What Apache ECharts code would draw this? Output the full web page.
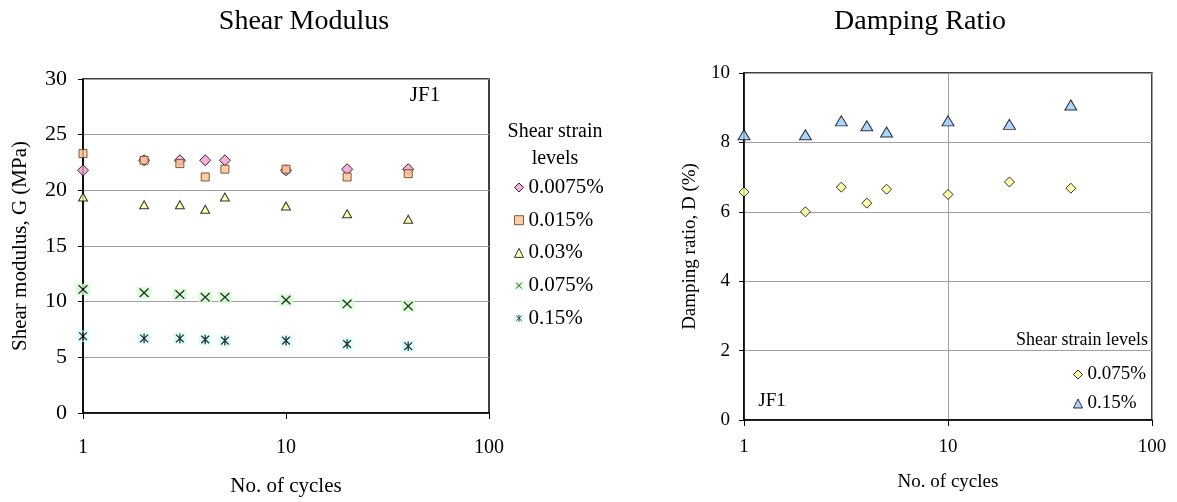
<!DOCTYPE html>
<html>
<head>
<meta charset="utf-8">
<title>Shear Modulus / Damping Ratio</title>
<script src="https://cdn.jsdelivr.net/npm/echarts@6/dist/echarts.min.js"></script>
<style>
  html, body { margin: 0; padding: 0; background: #fff; }
  #chart { width: 1177px; height: 502px; }
</style>
</head>
<body>
<div id="chart"></div>
<script>
// number of cycles (log axis)
const cycles = [1, 2, 3, 4, 5, 10, 20, 40]

// shear modulus G (MPa) per shear strain level
const g0075 = [21.8, 22.7, 22.7, 22.7, 22.7, 21.8, 21.9, 21.9]
const g015 = [23.3, 22.7, 22.4, 21.2, 21.9, 21.9, 21.2, 21.5]
const g03 = [19.4, 18.7, 18.7, 18.3, 19.4, 18.6, 17.9, 17.4]
const g075 = [11.1, 10.8, 10.65, 10.4, 10.4, 10.15, 9.8, 9.6]
const g15 = [6.9, 6.7, 6.7, 6.6, 6.5, 6.5, 6.2, 6.0]

// damping ratio D (%)
const d075 = [6.57, 6.0, 6.71, 6.25, 6.65, 6.5, 6.86, 6.68]
const d15 = [8.22, 8.22, 8.62, 8.48, 8.3, 8.62, 8.52, 9.08]

const leftNames = ['0.0075%', '0.015%', '0.03%', '0.075%', '0.15%']
const rightNames = ['0.075%', '0.15%']

const serif = '"Liberation Serif", "Times New Roman", serif'
const pairs = vals => cycles.map((c, i) => [c, vals[i]])

// excel-like marker with a coloured box behind black strokes
const boxMark = (bg, d) => 'image://data:image/svg+xml;charset=utf-8,' + encodeURIComponent(
  '<svg xmlns="http://www.w3.org/2000/svg" width="13" height="12" viewBox="0 0 13 12">' +
  '<rect width="13" height="12" fill="' + bg + '"/>' +
  '<path d="' + d + '" stroke="#000" stroke-width="1.3" fill="none"/></svg>')
const xMark = boxMark('#CCFFCC', 'M2.4 1.8L10.6 10.2M10.6 1.8L2.4 10.2')
const starMark = boxMark('#CCFFFF', 'M2.6 2.2L10.4 9.8M10.4 2.2L2.6 9.8M6.5 1.2V10.8')

const border = { borderColor: '#000', borderWidth: 1 }

const chart = echarts.init(document.getElementById('chart'))

const axisText = size => ({ color: '#000', fontFamily: serif, fontSize: size })
const gridLine = { lineStyle: { color: '#A0A0A0', width: 1 } }

const option = {
  animation: false,
  backgroundColor: '#fff',
  grid: [
    { left: 83, top: 79, width: 406, height: 335, show: true, borderColor: '#000', borderWidth: 1.5 },
    { left: 744, top: 73, width: 408, height: 347, show: true, borderColor: '#000', borderWidth: 1.5 }
  ],
  xAxis: [
    {
      gridIndex: 0, type: 'log', logBase: 10, min: 1, max: 100,
      axisLine: { lineStyle: { color: '#000', width: 1.5 } },
      axisTick: { length: 6, lineStyle: { color: '#000' } },
      minorTick: { show: false },
      splitLine: { show: false },
      axisLabel: Object.assign({ margin: 25 }, axisText(20)),
      name: 'No. of cycles', nameLocation: 'middle', nameGap: 63,
      nameTextStyle: axisText(21)
    },
    {
      gridIndex: 1, type: 'log', logBase: 10, min: 1, max: 100,
      axisLine: { lineStyle: { color: '#000', width: 1.5 } },
      axisTick: { length: 6, lineStyle: { color: '#000' } },
      minorTick: { show: false },
      splitLine: gridLine,
      axisLabel: Object.assign({ margin: 18 }, axisText(19)),
      name: 'No. of cycles', nameLocation: 'middle', nameGap: 53,
      nameTextStyle: axisText(19)
    }
  ],
  yAxis: [
    {
      gridIndex: 0, type: 'value', min: 0, max: 30, interval: 5,
      axisLine: { show: true, lineStyle: { color: '#000', width: 1.5 } },
      axisTick: { show: true, length: 5, lineStyle: { color: '#000' } },
      splitLine: gridLine,
      axisLabel: Object.assign({ margin: 16 }, axisText(22)),
      name: 'Shear modulus, G (MPa)', nameLocation: 'middle', nameGap: 52,
      nameTextStyle: axisText(21)
    },
    {
      gridIndex: 1, type: 'value', min: 0, max: 10, interval: 2,
      axisLine: { show: true, lineStyle: { color: '#000', width: 1.5 } },
      axisTick: { show: true, length: 5, lineStyle: { color: '#000' } },
      splitLine: gridLine,
      axisLabel: Object.assign({ margin: 14 }, axisText(19)),
      name: 'Damping ratio, D (%)', nameLocation: 'middle', nameGap: 44,
      nameTextStyle: axisText(19)
    }
  ],
  legend: [
    {
      orient: 'vertical', left: 509, top: 172, itemGap: 11.7,
      itemWidth: 9, itemHeight: 9,
      itemStyle: { borderWidth: 1 },
      textStyle: axisText(21),
      data: [
        { name: leftNames[0], icon: 'diamond' },
        { name: leftNames[1], icon: 'rect' },
        { name: leftNames[2], icon: 'triangle' },
        { name: leftNames[3], icon: xMark },
        { name: leftNames[4], icon: starMark }
      ]
    },
    {
      orient: 'vertical', left: 1068, top: 360, itemGap: 10,
      itemWidth: 9, itemHeight: 9,
      itemStyle: { borderWidth: 1 },
      textStyle: axisText(19),
      data: [
        { name: 'D ' + rightNames[0], icon: 'diamond' },
        { name: 'D ' + rightNames[1], icon: 'triangle' }
      ],
      formatter: n => n.slice(2)
    }
  ],
  graphic: [
    { type: 'text', x: 304, y: 22, style: { text: 'Shear Modulus', font: '28px ' + serif, fill: '#000', align: 'center', verticalAlign: 'middle' } },
    { type: 'text', x: 920, y: 22, style: { text: 'Damping Ratio', font: '28px ' + serif, fill: '#000', align: 'center', verticalAlign: 'middle' } },
    { type: 'text', x: 555, y: 132, style: { text: 'Shear strain', font: '20px ' + serif, fill: '#000', align: 'center', verticalAlign: 'middle' } },
    { type: 'text', x: 555, y: 159, style: { text: 'levels', font: '20px ' + serif, fill: '#000', align: 'center', verticalAlign: 'middle' } },
    { type: 'text', x: 1148, y: 340, style: { text: 'Shear strain levels', font: '18px ' + serif, fill: '#000', align: 'right', verticalAlign: 'middle' } },
    { type: 'text', x: 425, y: 95, style: { text: 'JF1', font: '21px ' + serif, fill: '#000', align: 'center', verticalAlign: 'middle' } },
    { type: 'text', x: 772, y: 401, style: { text: 'JF1', font: '19px ' + serif, fill: '#000', align: 'center', verticalAlign: 'middle' } }
  ],
  series: [
    { name: leftNames[0], type: 'scatter', xAxisIndex: 0, yAxisIndex: 0, data: pairs(g0075),
      symbol: 'diamond', symbolSize: 11, itemStyle: Object.assign({ color: '#F59AD0' }, border) },
    { name: leftNames[1], type: 'scatter', xAxisIndex: 0, yAxisIndex: 0, data: pairs(g015),
      symbol: 'rect', symbolSize: 8, itemStyle: { color: '#FFC08C', borderColor: '#5A3A1A', borderWidth: 1 } },
    { name: leftNames[2], type: 'scatter', xAxisIndex: 0, yAxisIndex: 0, data: pairs(g03),
      symbol: 'triangle', symbolSize: [9, 8], itemStyle: Object.assign({ color: '#FFFF99' }, border) },
    { name: leftNames[3], type: 'scatter', xAxisIndex: 0, yAxisIndex: 0, data: pairs(g075),
      symbol: xMark, symbolSize: [14, 12] },
    { name: leftNames[4], type: 'scatter', xAxisIndex: 0, yAxisIndex: 0, data: pairs(g15),
      symbol: starMark, symbolSize: [13, 12] },
    { name: 'D ' + rightNames[0], type: 'scatter', xAxisIndex: 1, yAxisIndex: 1, data: pairs(d075),
      symbol: 'diamond', symbolSize: 10, itemStyle: Object.assign({ color: '#FFFF99' }, border) },
    { name: 'D ' + rightNames[1], type: 'scatter', xAxisIndex: 1, yAxisIndex: 1, data: pairs(d15),
      symbol: 'triangle', symbolSize: [12, 10], itemStyle: Object.assign({ color: '#99CCFF' }, border) }
  ]
}

chart.setOption(option)
</script>
</body>
</html>
